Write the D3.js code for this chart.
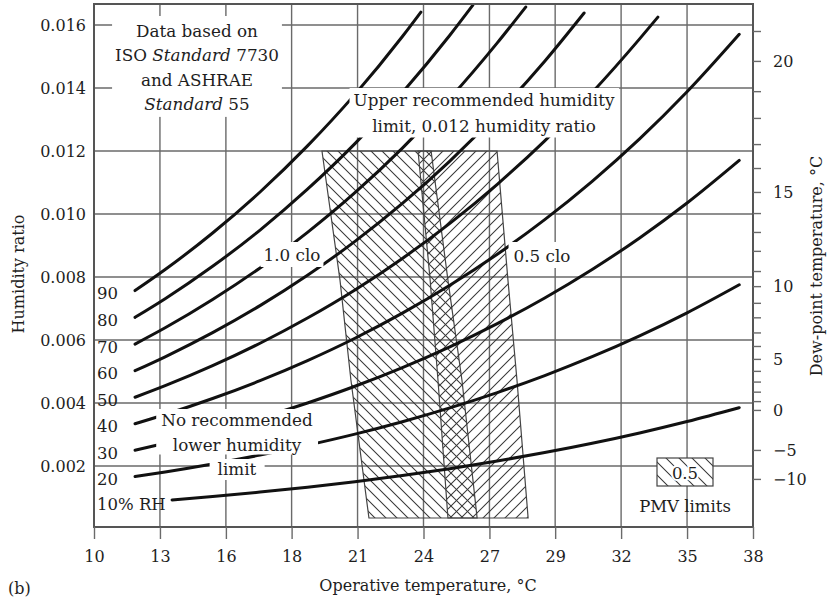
<!DOCTYPE html>
<html><head><meta charset="utf-8">
<script src="https://cdn.jsdelivr.net/npm/d3@7"></script>
<style>
body{margin:0;background:#fff;}
svg text{font-family:"DejaVu Serif",serif;fill:#1e1e1e;}
</style></head><body>
<svg id="c" width="830" height="602"></svg>
<script>
// ---------------- data ----------------
const xTickC = [10, 12.78, 15.56, 18.33, 21.11, 23.89, 26.67, 29.44, 32.22, 35, 37.78];
const xTickLabels = ["10","13","16","18","21","24","27","29","32","35","38"];
const yTicks = [0.002,0.004,0.006,0.008,0.010,0.012,0.014,0.016];
const dewTickLabels = ["20","15","10","5","0","\u22125","\u221210"];
const dewTickW = [0.01486,0.01070,0.00771,0.00540,0.00378,0.00251,0.00159];
const dewMinorW = [0.01581,0.01390,0.01305,0.01222,0.01146,0.01003,0.00943,0.00883,0.00819,
                   0.00718,0.00672,0.00624,0.00581,0.00502,0.00468,0.00436,0.00406];
const rhLevels = [90,80,70,60,50,40,30,20,10];
const rh90 = [[11.73,0.007569],[13,0.008237],[15,0.009398],[17,0.010699],[19,0.012162],[21,0.013798],[23,0.015635],[23.78,0.01641]];
const rh80 = [[11.73,0.006719],[13,0.007311],[15,0.008340],[17,0.009491],[19,0.010787],[21,0.012234],[23,0.013859],[25,0.015675],[25.97,0.01663]];
const rh70 = [[11.73,0.005871],[13,0.006387],[15,0.007285],[17,0.008289],[19,0.009418],[21,0.010678],[23,0.012092],[25,0.013671],[27,0.015432],[28.2,0.01657]];
const rh60 = [[11.73,0.005025],[13,0.005467],[15,0.006233],[17,0.007091],[19,0.008055],[21,0.009130],[23,0.010335],[25,0.011681],[27,0.013180],[29,0.014849],[30.66,0.01638]];
const rh50 = [[11.73,0.004182],[13,0.004549],[15,0.005186],[17,0.005898],[19,0.006698],[21,0.007589],[23,0.008589],[25,0.009703],[27,0.010944],[29,0.012324],[31,0.013859],[33,0.015559],[33.77,0.01625]];
const rh40 = [[11.73,0.003341],[13,0.003634],[15,0.004142],[17,0.004709],[19,0.005346],[21,0.006056],[23,0.006852],[25,0.007738],[27,0.008724],[29,0.009820],[31,0.011037],[33,0.012384],[35,0.013879],[37.2,0.015705]];
const rh30 = [[11.73,0.002502],[13,0.002721],[15,0.003101],[17,0.003525],[19,0.004001],[21,0.004531],[23,0.005124],[25,0.005785],[27,0.006520],[29,0.007335],[31,0.008240],[33,0.009241],[35,0.010350],[37.2,0.011703]];
const rh20 = [[11.73,0.001666],[13,0.001811],[15,0.002064],[17,0.002346],[19,0.002662],[21,0.003013],[23,0.003407],[25,0.003845],[27,0.004331],[29,0.004871],[31,0.005469],[33,0.006130],[35,0.006862],[37.2,0.007753]];
const rh10 = [[13.29,0.000921],[15,0.001030],[17,0.001171],[19,0.001328],[21,0.001503],[23,0.001699],[25,0.001916],[27,0.002158],[29,0.002426],[31,0.002722],[33,0.003050],[35,0.003412],[37.2,0.003852]];
const rhSeries = [rh90,rh80,rh70,rh60,rh50,rh40,rh30,rh20,rh10];
// PMV comfort zones (operative temperature °C, humidity ratio)
const zone10clo = [[19.61,0.0120],[20.37,0.0079],[20.83,0.00473],[21.59,0.00035],[26.15,0.00035],[25.51,0.00473],[24.92,0.0079],[24.21,0.0120]];
const zone05clo = [[23.66,0.0120],[24.17,0.0079],[24.50,0.00473],[24.92,0.00035],[28.30,0.00035],[27.83,0.00473],[27.45,0.0079],[26.99,0.0120]];

// ---------------- chart ----------------
const svg = d3.select("#c");
const x = d3.scaleLinear().domain([10, 37.78]).range([94, 753]);
const y = d3.scaleLinear().domain([0.0000635, 0.016667]).range([527, 4]);
const [x0,x1] = x.range(), [y0,y1] = y.range();
const gridCol = "#6a6a6a";
const annSize = 16.8;

const defs = svg.append("defs");
function hatch(id, size, back, col, sw){
  const p = defs.append("pattern").attr("id",id).attr("patternUnits","userSpaceOnUse")
    .attr("width",size).attr("height",size);
  const d = back
    ? `M${-1},${-1}L${size+1},${size+1}M${-1},${size-1}L1,${size+1}M${size-1},-1L${size+1},1`
    : `M-1,${size+1}L${size+1},-1M-1,1L1,-1M${size-1},${size+1}L${size+1},${size-1}`;
  p.append("path").attr("d",d).attr("stroke",col).attr("stroke-width",sw).attr("fill","none");
}
hatch("hWin", 11, true, "#383838", 1.05);
hatch("hSum", 11, false, "#383838", 1.05);
hatch("hLeg", 13, true, "#383838", 1.05);

// grid
const grid = svg.append("g").attr("stroke",gridCol).attr("stroke-width",1.4);
grid.selectAll("line.h").data(yTicks).join("line").attr("class","h")
  .attr("x1",x0).attr("x2",x1).attr("y1",d=>y(d)).attr("y2",d=>y(d));
grid.selectAll("line.v").data(xTickC).join("line").attr("class","v")
  .attr("x1",d=>x(d)).attr("x2",d=>x(d)).attr("y1",y0).attr("y2",y1);

// zones
const zl = d3.line().x(d=>x(d[0])).y(d=>y(d[1])).curve(d3.curveLinearClosed);
svg.append("path").datum(zone10clo).attr("d",zl).attr("fill","url(#hWin)").attr("stroke","#444").attr("stroke-width",1.2);
svg.append("path").datum(zone05clo).attr("d",zl).attr("fill","url(#hSum)").attr("stroke","#444").attr("stroke-width",1.2);

// RH curves
const cl = d3.line().x(d=>x(d[0])).y(d=>y(d[1])).curve(d3.curveMonotoneX);
svg.append("g").selectAll("path").data(rhSeries).join("path")
  .attr("d",cl).attr("fill","none").attr("stroke","#111").attr("stroke-width",3).attr("stroke-linecap","round");

// annotation helper: lines of segments, white box behind
const ann = svg.append("g");
function note(lines, cx, base, lh, groups, pad){
  const g = ann.append("g");
  const rg = g.append("g");
  const texts = lines.map((ln,i)=>{
    const t = g.append("text").attr("x",cx).attr("y",base+i*lh).attr("text-anchor","middle").attr("font-size",annSize);
    ln.forEach(s=>{ const sp=t.append("tspan").text(s[0]); if(s[1]) sp.attr("font-style","italic"); });
    return t;
  });
  groups.forEach((grp,k)=>{
    const bb = grp.map(i=>texts[i].node().getBBox());
    const xa=d3.min(bb,b=>b.x), xb=d3.max(bb,b=>b.x+b.width), ya=d3.min(bb,b=>b.y), yb=d3.max(bb,b=>b.y+b.height);
    const p = pad[k];
    rg.append("rect").attr("x",xa-p[0]).attr("y",ya-p[1]).attr("width",xb-xa+2*p[0]).attr("height",yb-ya+p[1]+p[2]).attr("fill","#fff");
  });
}
note([[["Data based on"]],[["ISO "],["Standard",1],[" 7730"]],[["and ASHRAE"]],[["Standard",1],[" 55"]]],
     197, 37, 24.3, [[0,1,2,3]], [[3,5,3]]);
note([[["Upper recommended humidity"]],[["limit, 0.012 humidity ratio"]]], 484, 106, 25.5, [[0,1]], [[4,2,2]]);
note([[["1.0 clo"]]], 292, 261, 0, [[0]], [[3,3,2]]);
note([[["0.5 clo"]]], 542, 262, 0, [[0]], [[5,4,2]]);
note([[["No recommended"]],[["lower humidity"]],[["limit"]]], 237, 426, 24.5, [[0,1],[2]], [[5,1,0],[8,0,1]]);

// RH labels
rhSeries.forEach((s,i)=>{
  const lvl = rhLevels[i];
  svg.append("text").attr("x",97).attr("y",y(s[0][1])+ (lvl===10?5:3))
    .attr("dominant-baseline","central").attr("font-size",16.5)
    .text(lvl===10 ? "10% RH" : String(lvl));
});

// frame
svg.append("path").attr("d",`M${x0},${y1}H${x1}V${y0}H${x0}Z`).attr("fill","none").attr("stroke","#555").attr("stroke-width",2);

// axes
function styleAxis(g){ g.select(".domain").remove(); g.attr("font-family",null).attr("font-size",16);
  g.selectAll("line").attr("stroke",gridCol).attr("stroke-width",1.4); g.selectAll("text").attr("fill","#1e1e1e"); }
svg.append("g").attr("transform",`translate(0,${y0})`)
  .call(d3.axisBottom(x).tickValues(xTickC).tickFormat((d,i)=>xTickLabels[i]).tickSize(12).tickPadding(12))
  .call(styleAxis);
svg.append("g").attr("transform",`translate(${x0},0)`)
  .call(d3.axisLeft(y).tickValues(yTicks).tickFormat(d3.format(".3f")).tickSize(0).tickPadding(8))
  .call(styleAxis);
svg.append("g").attr("transform",`translate(${x1},0)`)
  .call(d3.axisRight(y).tickValues(dewTickW).tickFormat((d,i)=>dewTickLabels[i]).tickSize(8).tickPadding(12))
  .call(styleAxis);
svg.append("g").attr("transform",`translate(${x1},0)`)
  .call(d3.axisRight(y).tickValues(dewMinorW).tickFormat("").tickSize(8))
  .call(styleAxis);

// titles
svg.append("text").attr("transform","translate(18,274) rotate(-90)").attr("text-anchor","middle")
  .attr("dominant-baseline","central").attr("font-size",16).text("Humidity ratio");
svg.append("text").attr("transform","translate(816,266) rotate(-90)").attr("text-anchor","middle")
  .attr("dominant-baseline","central").attr("font-size",16).text("Dew-point temperature, \u00B0C");
svg.append("text").attr("x",428).attr("y",591).attr("text-anchor","middle").attr("font-size",16).text("Operative temperature, \u00B0C");
svg.append("text").attr("x",8).attr("y",594).attr("font-size",16).text("(b)");

// legend
const lg = svg.append("g");
lg.append("rect").attr("x",657).attr("y",458).attr("width",56).attr("height",28).attr("fill","#fff");
lg.append("rect").attr("x",657).attr("y",458).attr("width",56).attr("height",28).attr("fill","url(#hLeg)").attr("stroke","#444").attr("stroke-width",1.2);
lg.append("text").attr("x",685).attr("y",479).attr("text-anchor","middle").attr("font-size",16.5)
  .attr("stroke","#fff").attr("stroke-width",4).attr("paint-order","stroke").text("0.5");
lg.append("text").attr("x",685).attr("y",512).attr("text-anchor","middle").attr("font-size",16.5).text("PMV limits");
</script></body></html>
